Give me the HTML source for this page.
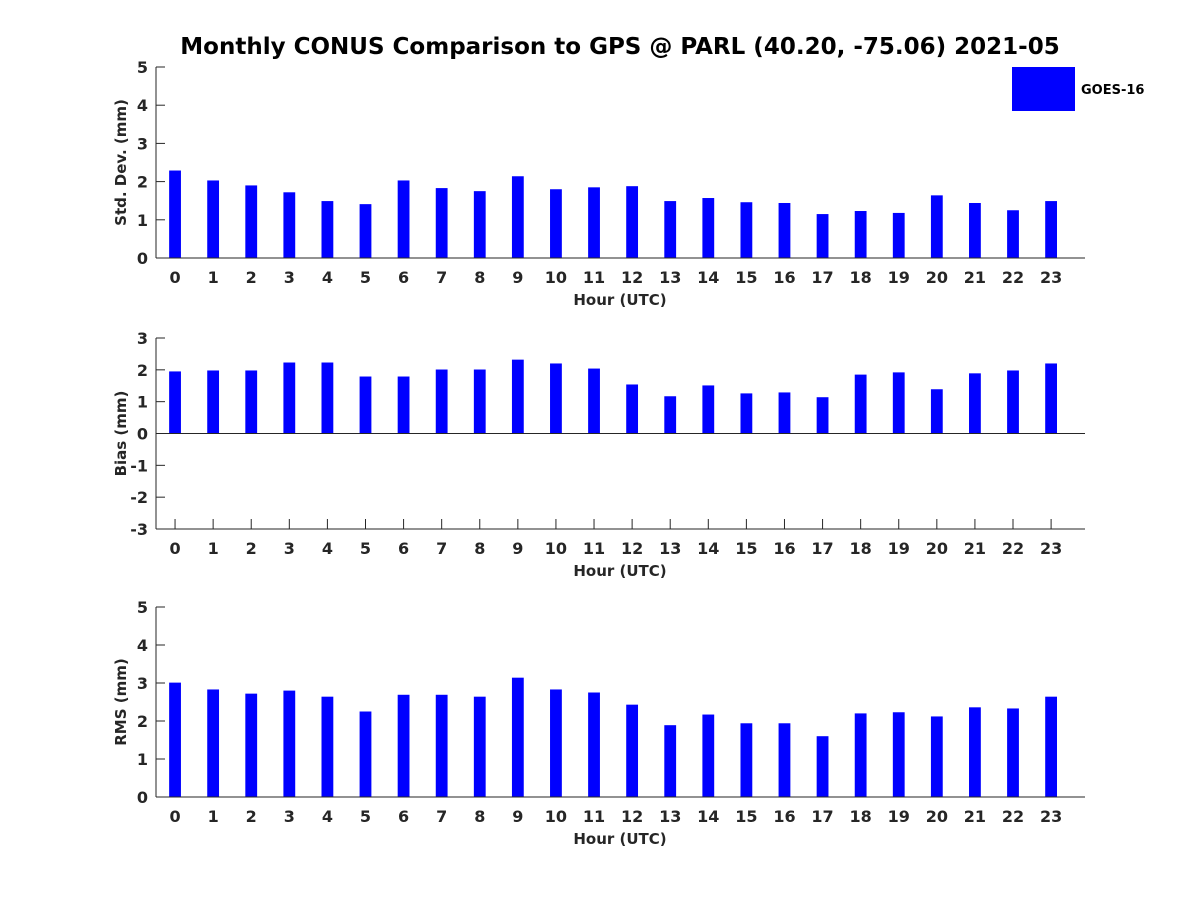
<!DOCTYPE html>
<html><head><meta charset="utf-8"><style>
html,body{margin:0;padding:0;background:#fff;}
svg{display:block;font-family:"DejaVu Sans","Liberation Sans",sans-serif;font-weight:bold;}
</style></head><body>
<svg id="chart" width="1200" height="900" viewBox="0 0 1200 900" xmlns="http://www.w3.org/2000/svg">
<rect width="1200" height="900" fill="#fff"/>
<text x="620" y="54" text-anchor="middle" font-size="23" fill="#000">Monthly CONUS Comparison to GPS @ PARL (40.20, -75.06) 2021-05</text>
<g>
<rect x="1012" y="67" width="63" height="44" fill="#0000ff"/>
<text x="1081" y="94" font-size="13" fill="#000">GOES-16</text>
</g>
</svg>
<script>
const hours = [0,1,2,3,4,5,6,7,8,9,10,11,12,13,14,15,16,17,18,19,20,21,22,23];
const stdValues = [2.29,2.03,1.90,1.72,1.49,1.41,2.03,1.83,1.75,2.14,1.80,1.85,1.88,1.49,1.57,1.46,1.44,1.15,1.23,1.18,1.64,1.44,1.25,1.49];
const biasValues = [1.95,1.98,1.98,2.23,2.23,1.79,1.79,2.01,2.01,2.32,2.20,2.04,1.54,1.17,1.51,1.26,1.29,1.14,1.85,1.92,1.39,1.89,1.98,2.20];
const rmsValues = [3.01,2.83,2.72,2.80,2.64,2.25,2.69,2.69,2.64,3.14,2.83,2.75,2.43,1.89,2.17,1.94,1.94,1.60,2.20,2.23,2.12,2.36,2.33,2.64];
const stdTicks = [0,1,2,3,4,5];
const biasTicks = [-3,-2,-1,0,1,2,3];
const rmsTicks = [0,1,2,3,4,5];

const svg = document.getElementById('chart');
const NS = 'http://www.w3.org/2000/svg';
function mk(tag, attrs, parent){ const e=document.createElementNS(NS,tag); for(const k in attrs) e.setAttribute(k,attrs[k]); parent.appendChild(e); return e; }

const L=156, R=1085, xMin=-0.5, xMax=23.89;
function xs(v){ return L + (v - xMin)/(xMax - xMin)*(R-L); }

function panel(name, top, bottom, yMin, yMax, ticks, values, ylabel){
  const g = mk('g',{},svg);
  
  
  const ys = v => bottom - (v - yMin)/(yMax - yMin)*(bottom-top);
  const ax = mk('g',{stroke:'#262626','stroke-width':1},g);
  
  
  hours.forEach(h=>{
    mk('line',{x1:xs(h),y1:bottom,x2:xs(h),y2:bottom-10},ax);
  });
  const bw = xs(0.31) - xs(0);
  values.forEach((v,i)=>{
    const y0 = ys(0), y1 = ys(v);
    const r = mk('rect',{x:xs(hours[i])-bw/2, y:Math.min(y0,y1), width:bw, height:Math.abs(y1-y0), fill:'#0000ff'},g);
    
    
  });
  const ax2 = mk('g',{stroke:'#262626','stroke-width':1},g);
  
  
  mk('line',{x1:L,y1:top,x2:L,y2:bottom},ax2);
  mk('line',{x1:L,y1:bottom,x2:R,y2:bottom},ax2);
  if(yMin<0) mk('line',{x1:L,y1:ys(0),x2:R,y2:ys(0)},ax2);
  ticks.forEach(t=>{
    mk('line',{x1:L,y1:ys(t),x2:L+9,y2:ys(t)},ax2);
    const tx = mk('text',{x:L-8,y:ys(t)+6,'text-anchor':'end','font-size':16,fill:'#262626'},g);
    tx.textContent = t;
    
    
  });
  hours.forEach(h=>{
    const tx = mk('text',{x:xs(h),y:bottom+25,'text-anchor':'middle','font-size':16,fill:'#262626'},g);
    tx.textContent = h;
    
    
  });
  const xl = mk('text',{x:620,y:bottom+47,'text-anchor':'middle','font-size':15,fill:'#262626'},g);
  xl.textContent = 'Hour (UTC)';
  
  
  const cy = (top+bottom)/2;
  const yl = mk('text',{x:126,y:cy,'text-anchor':'middle','font-size':15,fill:'#262626',transform:'rotate(-90 126 '+cy+')'},g);
  yl.textContent = ylabel;
  
  
}
panel('std-dev', 67, 258, 0, 5, stdTicks, stdValues, 'Std. Dev. (mm)');
panel('bias', 338, 529, -3, 3, biasTicks, biasValues, 'Bias (mm)');
panel('rms', 607, 797, 0, 5, rmsTicks, rmsValues, 'RMS (mm)');
</script>
</body></html>
